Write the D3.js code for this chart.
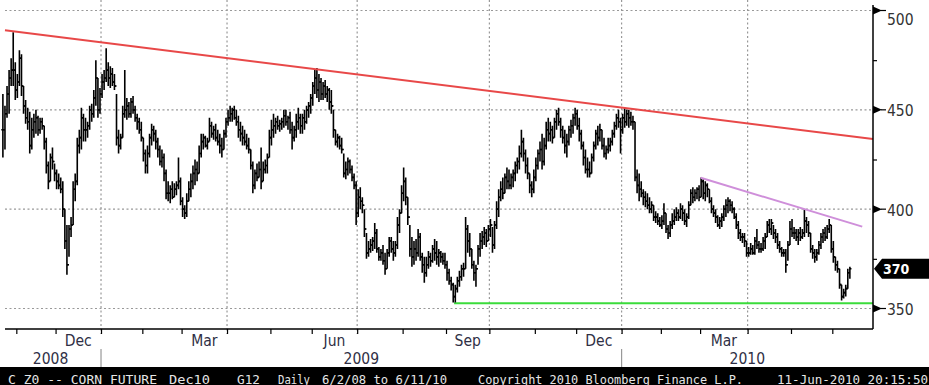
<!DOCTYPE html>
<html>
<head>
<meta charset="utf-8">
<script src="https://cdnjs.cloudflare.com/ajax/libs/d3/7.8.5/d3.min.js"></script>
<style>
  body { margin: 0; background: #fff; }
  svg { display: block; }
</style>
</head>
<body>
<div id="main"><svg width="929" height="385"></svg></div>
<script>
// trading calendar of the visible window
var firstDay = '2008-10-23'
var lastDay = '2010-06-11'
var holidays = ['2008-11-27', '2008-12-25', '2009-01-01', '2009-01-19', '2009-02-16',
  '2009-04-10', '2009-05-25', '2009-07-03', '2009-09-07', '2009-11-26', '2009-12-25',
  '2010-01-01', '2010-01-18', '2010-02-15', '2010-04-02', '2010-05-31']

var high = [
  458,452,462,470,476,489,474,468,480,478,
  462,455,451,449,446,448,450,447,446,446,
  442,436,424,428,431,423,420,418,416,414,
  400,392,392,396,414,418,436,440,451,448,
  446,444,452,453,460,475,466,461,468,470,
  481,474,472,471,468,458,440,438,452,470,
  456,454,456,457,452,448,446,444,436,430,
  432,438,443,442,440,436,432,430,428,420,
  414,412,414,413,414,426,416,406,402,408,
  414,418,422,425,424,432,438,438,437,436,
  446,444,442,443,440,438,436,440,446,450,
  452,451,452,450,447,444,442,440,438,436,
  430,424,420,423,424,431,424,425,428,440,
  445,448,446,447,445,446,450,450,447,449,
  444,442,448,451,448,448,450,452,454,458,
  464,470,471,468,466,464,465,462,461,460,
  450,440,438,437,436,428,424,426,425,422,
  418,414,410,411,406,400,388,384,385,386,
  393,390,381,380,382,378,380,386,386,384,
  384,396,400,412,421,416,406,392,386,384,
  385,390,388,378,376,376,379,378,382,385,
  384,380,379,378,378,374,370,366,363,362,
  366,369,372,373,396,392,388,380,374,372,
  382,388,389,391,390,392,395,391,394,404,
  410,414,416,418,421,420,418,420,424,426,
  432,440,436,430,426,418,414,420,426,430,
  434,438,436,444,446,444,442,446,450,451,
  446,442,440,438,442,445,448,451,450,446,
  440,434,430,426,424,428,434,440,442,443,
  440,436,432,436,436,440,444,448,450,446,
  448,451,450,450,449,447,444,420,418,414,
  410,409,408,406,404,402,399,398,396,397,
  403,398,392,394,398,400,401,400,403,402,
  400,398,404,410,411,410,411,412,416,415,
  414,413,410,406,402,400,397,396,398,402,
  405,406,405,404,401,398,394,390,388,388,
  384,381,383,382,386,390,384,383,386,388,
  394,395,395,392,390,388,384,381,380,380,
  384,394,395,391,390,390,391,390,400,396,
  394,388,382,380,380,384,388,390,391,392,
  395,392,384,376,374,370,362,360,362,370,371
]

var low = [
  426,430,446,448,462,462,455,456,462,457,
  448,443,440,428,430,436,438,437,438,440,
  430,418,410,414,420,414,410,410,408,396,
  380,367,376,386,392,404,412,428,430,434,
  434,436,440,444,446,452,446,448,456,460,
  464,462,461,462,460,432,428,430,436,446,
  445,446,446,448,444,440,438,434,424,418,
  418,426,432,434,430,426,422,421,414,405,
  404,403,405,406,407,410,402,396,395,396,
  404,406,410,412,414,418,426,430,431,430,
  434,436,435,434,432,428,426,430,436,442,
  444,444,445,442,436,434,432,432,430,428,
  420,408,410,414,416,410,414,418,418,426,
  432,436,438,440,439,440,441,442,440,438,
  430,434,436,440,438,438,440,443,446,448,
  452,458,456,454,455,455,456,454,450,448,
  436,432,431,430,428,416,415,417,418,414,
  410,392,396,400,398,386,375,376,378,379,
  380,378,374,374,372,367,370,376,378,374,
  376,380,388,398,404,402,392,376,371,372,
  374,376,374,368,363,366,370,371,373,374,
  372,371,373,372,370,364,362,359,353,353,
  358,361,364,366,370,378,376,370,364,361,
  372,376,380,382,381,384,386,378,380,390,
  396,404,405,408,410,410,410,411,414,418,
  420,426,424,418,415,408,406,408,414,420,
  424,420,422,430,434,434,433,436,440,442,
  436,433,428,426,432,436,438,442,440,434,
  430,422,418,416,416,418,424,430,432,434,
  430,426,425,428,429,432,436,440,441,428,
  438,441,442,441,442,440,414,408,404,406,
  402,401,400,398,398,394,393,392,391,390,
  392,388,385,386,390,392,394,394,395,394,
  392,391,395,402,403,404,405,404,406,405,
  404,406,403,398,396,393,391,390,391,394,
  396,398,399,398,395,390,385,384,383,381,
  376,376,377,377,377,380,378,378,379,380,
  386,388,387,385,383,380,378,376,376,368,
  374,382,386,385,384,382,384,385,386,388,
  386,378,375,373,374,377,380,383,384,385,
  388,378,373,369,368,360,354,355,356,360,365
]

var close = [
  440,448,458,466,470,470,460,464,476,462,
  452,446,444,432,440,444,446,440,444,442,
  434,422,414,426,424,418,414,412,410,400,
  384,372,390,392,410,414,432,436,446,440,
  440,442,450,448,456,466,450,458,464,466,
  470,466,468,464,462,436,432,436,448,450,
  452,448,454,450,446,444,440,436,428,422,
  428,436,440,438,434,430,424,426,418,408,
  408,410,406,410,412,414,404,400,398,404,
  410,414,418,420,418,428,434,436,432,434,
  442,438,440,436,434,432,430,438,444,446,
  448,450,446,444,440,438,436,434,432,430,
  422,412,418,416,420,414,420,422,426,436,
  440,442,444,442,443,444,447,444,446,440,
  436,440,444,446,442,446,444,450,452,456,
  462,466,460,464,458,462,458,460,454,452,
  440,434,436,432,430,418,420,424,420,416,
  412,398,406,404,402,390,378,380,382,384,
  388,380,376,378,374,370,378,384,380,378,
  382,392,398,408,414,406,396,380,376,380,
  378,386,376,372,368,372,376,374,380,378,
  376,378,376,374,372,368,364,362,356,360,
  364,366,370,370,390,384,380,372,368,370,
  380,384,386,388,384,390,392,382,392,400,
  406,410,408,416,414,412,416,418,422,424,
  428,434,428,422,418,412,410,416,422,428,
  430,424,432,440,438,440,436,444,448,444,
  440,436,432,434,440,442,446,448,442,438,
  432,426,420,420,418,426,432,438,436,440,
  432,428,430,432,434,438,442,446,444,440,
  446,444,448,446,444,444,416,412,410,408,
  406,404,402,400,402,396,396,394,392,394,
  398,390,388,392,394,396,398,396,400,398,
  394,396,402,408,406,408,410,406,414,408,
  412,410,404,400,398,396,392,394,396,400,
  402,404,402,400,396,392,388,386,386,384,
  378,378,380,378,384,382,380,380,384,386,
  392,390,393,388,386,382,380,378,378,372,
  382,390,388,388,386,388,386,388,394,392,
  388,380,378,376,378,382,386,388,386,390,
  392,380,376,372,370,362,356,358,360,368,370
]

var priceTicks = [500, 450, 400, 350]
var minorPriceTicks = [475, 425, 375]
var monthNames = ['Jan', 'Feb', 'Mar', 'Apr', 'May', 'Jun', 'Jul', 'Aug', 'Sep', 'Oct', 'Nov', 'Dec']
var labelledMonths = ['Dec', 'Mar', 'Jun', 'Sep']
var lastPrice = 370

// drawn lines, as [bar index, price]
var redTrend = [[1, 490], [421.2, 435.3]]
var pinkTrend = [[337.8, 415.8], [416, 391.2]]
var greenSupport = [[218.4, 352.6], [421.2, 352.6]]

var footerText = ['C Z0 -- CORN FUTURE', 'Dec10', 'G12', 'Daily', '6/2/08 to 6/11/10',
  'Copyright 2010 Bloomberg Finance L.P.', '11-Jun-2010 20:15:50']

var config = {
  plot: { left: 0, right: 873, top: 0, bottom: 329 },
  footerX: [8, 169, 237, 278, 322, 478, 777],
  footerW: [149, 41, 23, 32, 125, 265, 151],
  font: '"DejaVu Sans Condensed", "DejaVu Sans", sans-serif'
}

var svg = d3.select('#main svg')

function tradingDays (from, to) {
  var out = []
  var d = new Date(from + 'T00:00:00Z')
  var end = new Date(to + 'T00:00:00Z')
  while (d <= end) {
    var key = d.toISOString().slice(0, 10)
    var wd = d.getUTCDay()
    if (wd !== 0 && wd !== 6 && holidays.indexOf(key) < 0) out.push(new Date(d))
    d.setUTCDate(d.getUTCDate() + 1)
  }
  return out
}

var days = tradingDays(firstDay, lastDay)
var n = Math.min(days.length, high.length)

var bars = d3.range(n).map(function (i) {
  return {
    i: i,
    date: days[i],
    high: high[i],
    low: low[i],
    open: i > 0 ? close[i - 1] : close[i],
    close: close[i]
  }
})

var x = d3.scaleLinear().domain([-1.4, 421.2]).range([config.plot.left, config.plot.right])
var y = d3.scaleLinear().domain([350, 500]).range([308.5, 10.5])

// month spans
var months = []
days.forEach(function (d, i) {
  if (i === 0 || d.getUTCMonth() !== days[i - 1].getUTCMonth()) {
    months.push({ start: i, month: d.getUTCMonth(), year: d.getUTCFullYear() })
  }
})
months.forEach(function (m, k) {
  m.end = k < months.length - 1 ? months[k + 1].start - 1 : days.length - 1
  m.complete = k > 0 && k < months.length - 1
})
var boundaries = months.filter(function (m, k) { return k > 0 })
var quarterLines = boundaries.filter(function (m) { return m.month % 3 === 0 })
var yearLines = boundaries.filter(function (m) { return m.month === 0 })

// grid
var grid = svg.append('g')
    .attr('stroke', '#999')
    .attr('stroke-width', 1.2)
    .attr('stroke-dasharray', '2,2.5')

grid.selectAll('line.h')
  .data(priceTicks)
  .enter()
  .append('line')
    .attr('x1', 5)
    .attr('x2', config.plot.right)
    .attr('y1', function (d) { return y(d) })
    .attr('y2', function (d) { return y(d) })

grid.selectAll('line.v')
  .data(quarterLines)
  .enter()
  .append('line')
    .attr('x1', function (d) { return x(d.start - 0.5) })
    .attr('x2', function (d) { return x(d.start - 0.5) })
    .attr('y1', 0)
    .attr('y2', 334)

// trend lines
var line = d3.line()
    .x(function (d) { return x(d[0]) })
    .y(function (d) { return y(d[1]) })

svg.append('path')
    .attr('d', line(greenSupport))
    .attr('stroke', '#3bdc3b')
    .attr('stroke-width', 2)
    .attr('fill', 'none')

// price bars
svg.append('g')
  .selectAll('path')
  .data(bars)
  .enter()
  .append('path')
    .attr('d', function (d) {
      var cx = x(d.i)
      return 'M' + cx + ',' + y(d.high) + 'V' + y(d.low) +
        'M' + (cx - 1.6) + ',' + y(d.open) + 'H' + cx +
        'M' + cx + ',' + y(d.close) + 'H' + (cx + 1.6)
    })
    .attr('stroke', '#000')
    .attr('stroke-width', 1.6)
    .attr('fill', 'none')

svg.append('path')
    .attr('d', line(redTrend))
    .attr('stroke', '#e84848')
    .attr('stroke-width', 2)
    .attr('fill', 'none')

svg.append('path')
    .attr('d', line(pinkTrend))
    .attr('stroke', '#cf8fda')
    .attr('stroke-width', 2)
    .attr('fill', 'none')

// x axis
var xAxis = d3.axisBottom(x)
    .tickValues(boundaries.map(function (m) { return m.start - 0.5 }))
    .tickSize(5)
    .tickFormat('')

var gx = svg.append('g')
    .attr('transform', 'translate(0,' + config.plot.bottom + ')')
    .call(xAxis)
gx.select('.domain').remove()
gx.selectAll('.tick line').attr('stroke', '#000').attr('stroke-width', 1.2)

svg.append('line')
    .attr('x1', 5)
    .attr('x2', config.plot.right)
    .attr('y1', config.plot.bottom)
    .attr('y2', config.plot.bottom)
    .attr('stroke', '#000')
    .attr('stroke-width', 1.5)

svg.selectAll('text.month')
  .data(months.filter(function (m) {
    return m.complete && labelledMonths.indexOf(monthNames[m.month]) >= 0
  }))
  .enter()
  .append('text')
    .attr('x', function (d) { return x((d.start + d.end) / 2) })
    .attr('y', 346)
    .attr('text-anchor', 'middle')
    .attr('font-family', config.font)
    .attr('font-size', 15.5)
    .attr('fill', '#2f2f45')
    .text(function (d) { return monthNames[d.month] })

// year row
var yearEdges = [config.plot.left].concat(yearLines.map(function (m) { return x(m.start - 0.5) }), [config.plot.right])
var years = d3.range(yearEdges.length - 1).map(function (k) {
  return { year: days[0].getUTCFullYear() + k, x0: yearEdges[k], x1: yearEdges[k + 1] }
})

svg.selectAll('line.year')
  .data(yearLines)
  .enter()
  .append('line')
    .attr('x1', function (d) { return x(d.start - 0.5) })
    .attr('x2', function (d) { return x(d.start - 0.5) })
    .attr('y1', 349)
    .attr('y2', 367)
    .attr('stroke', '#999')
    .attr('stroke-width', 1.2)

svg.selectAll('text.year')
  .data(years)
  .enter()
  .append('text')
    .attr('x', function (d) { return (d.x0 + d.x1) / 2 })
    .attr('y', 364)
    .attr('text-anchor', 'middle')
    .attr('font-family', config.font)
    .attr('font-size', 15.5)
    .attr('fill', '#2f2f45')
    .text(function (d) { return d.year })

// right axis
var yAxis = d3.axisRight(y)
    .tickValues(minorPriceTicks)
    .tickSize(4)
    .tickFormat('')

var gy = svg.append('g')
    .attr('transform', 'translate(' + config.plot.right + ',0)')
    .call(yAxis)
gy.select('.domain').remove()
gy.selectAll('.tick line').attr('stroke', '#000').attr('stroke-width', 1.2)

svg.append('line')
    .attr('x1', config.plot.right)
    .attr('x2', config.plot.right)
    .attr('y1', 5)
    .attr('y2', config.plot.bottom)
    .attr('stroke', '#000')
    .attr('stroke-width', 1.5)

var major = svg.selectAll('g.major')
  .data(priceTicks)
  .enter()
  .append('g')
    .attr('transform', function (d) { return 'translate(' + config.plot.right + ',' + y(d) + ')' })

major.append('path')
    .attr('d', 'M0,-4L9,0L0,4Z')
    .attr('fill', '#000')

major.append('line')
    .attr('x1', 8)
    .attr('x2', 13)
    .attr('stroke', '#000')
    .attr('stroke-width', 1.2)

major.append('text')
    .attr('x', 14)
    .attr('y', function (d, k) { return k === 0 ? 14.5 : 6.5 })
    .attr('font-family', config.font)
    .attr('font-size', 15.5)
    .attr('fill', '#333')
    .text(function (d) { return d })

// last price flag
var flag = svg.append('g')
    .attr('transform', 'translate(' + (config.plot.right + 1) + ',' + y(lastPrice) + ')')

flag.append('path')
    .attr('d', 'M0,0L8,-10H60V10H8Z')
    .attr('fill', '#000')

flag.append('text')
    .attr('x', 9)
    .attr('y', 5.5)
    .attr('font-family', config.font)
    .attr('font-size', 14)
    .attr('font-weight', 'bold')
    .attr('fill', '#fff')
    .text(lastPrice)

// footer strip
svg.append('rect')
    .attr('x', 0)
    .attr('y', 367)
    .attr('width', 929)
    .attr('height', 18)
    .attr('fill', '#000')

svg.selectAll('text.footer')
  .data(footerText)
  .enter()
  .append('text')
    .attr('x', function (d, k) { return config.footerX[k] })
    .attr('y', 383.5)
    .attr('textLength', function (d, k) { return config.footerW[k] })
    .attr('lengthAdjust', 'spacingAndGlyphs')
    .attr('font-family', '"DejaVu Sans Mono", monospace')
    .attr('font-size', 12.5)
    .attr('fill', '#e6e6e6')
    .text(function (d) { return d })
</script>
</body>
</html>
